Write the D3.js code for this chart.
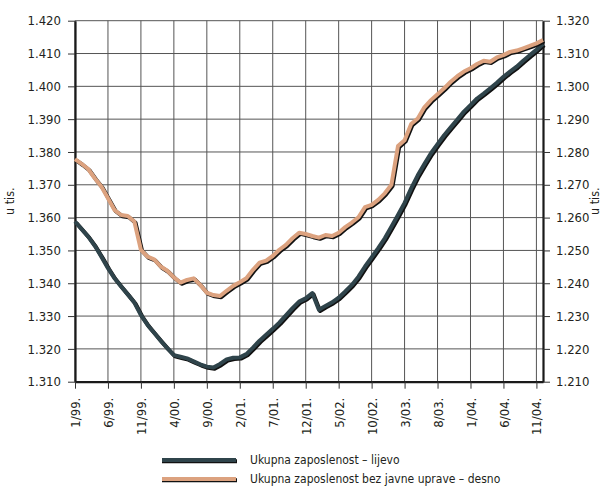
<!DOCTYPE html>
<html>
<head>
<meta charset="utf-8">
<script src="https://cdn.jsdelivr.net/npm/d3@7"></script>
<style>
  body { margin: 0; background: #fff; }
  svg { display: block; }
  text { font-family: "DejaVu Sans Condensed", "DejaVu Sans", sans-serif; fill: #231f20; }
</style>
</head>
<body>
<div id="chart"></div>
<script>
// month categories 1/99. .. 12/04.
const months = d3.range(72).map(i => `${i % 12 + 1}/${String((99 + Math.floor(i / 12)) % 100).padStart(2, "0")}.`);
const tickLabels = ["1/99.", "6/99.", "11/99.", "4/00.", "9/00.", "2/01.", "7/01.", "12/01.",
                    "5/02.", "10/02.", "3/03.", "8/03.", "1/04.", "6/04.", "11/04."];
const leftTicks = [1310, 1320, 1330, 1340, 1350, 1360, 1370, 1380, 1390, 1400, 1410, 1420];
const rightTicks = [1210, 1220, 1230, 1240, 1250, 1260, 1270, 1280, 1290, 1300, 1310, 1320];

// Ukupna zaposlenost (lijevo), u tis.
const ukupna = [
  1358.8, 1356.5, 1354.2, 1351.4, 1348.1, 1344.6, 1341.5, 1339.0, 1336.6, 1334.1, 1330.3, 1327.3,
  1324.9, 1322.5, 1320.2, 1318.1, 1317.6, 1317.1, 1316.2, 1315.3, 1314.6, 1314.3, 1315.4, 1316.8,
  1317.3, 1317.4, 1318.4, 1320.4, 1322.5, 1324.3, 1326.1, 1328.0, 1330.2, 1332.4, 1334.4, 1335.4,
  1337.0, 1331.9, 1333.1, 1334.2, 1335.6, 1337.5, 1339.5, 1342.0, 1345.1, 1347.9, 1350.7, 1353.7,
  1357.2, 1360.8, 1364.5, 1368.9, 1372.9, 1376.3, 1379.6, 1382.4, 1385.1, 1387.5, 1389.9, 1392.3,
  1394.3, 1396.3, 1397.8, 1399.4, 1401.1, 1402.9, 1404.5, 1406.0, 1407.8, 1409.5, 1411.1, 1412.9
];

// Ukupna zaposlenost bez javne uprave (desno), u tis.
const bezUprave = [
  1277.8, 1276.4, 1274.8, 1272.0, 1269.5, 1265.9, 1262.3, 1260.8, 1260.5, 1258.8, 1250.2, 1248.1,
  1247.3, 1245.1, 1243.8, 1241.8, 1240.2, 1241.0, 1241.5, 1239.5, 1237.1, 1236.4, 1236.1, 1237.7,
  1239.2, 1240.3, 1241.5, 1244.1, 1246.3, 1246.9, 1248.3, 1250.2, 1251.7, 1253.7, 1255.4, 1255.0,
  1254.4, 1253.9, 1254.7, 1254.4, 1255.4, 1257.1, 1258.5, 1260.1, 1263.2, 1263.9, 1265.4, 1267.4,
  1270.0, 1281.8, 1283.6, 1288.5, 1290.2, 1293.6, 1295.8, 1297.6, 1299.4, 1301.4, 1303.1, 1304.5,
  1305.5, 1306.8, 1307.8, 1307.5, 1308.8, 1309.5, 1310.5, 1310.9, 1311.6, 1312.3, 1313.1, 1314.1
];

const width = 609, height = 488;
const plotLeft = 75, plotRight = 543, plotTop = 20.7, plotBottom = 381.7;
const darkColor = "#2f444b", orangeColor = "#dca27f";

const hr = d3.formatLocale({decimal: ",", thousands: ".", grouping: [3], currency: ["", ""]});
const fmt = hr.format(",.0f");

const x = d3.scalePoint().domain(months).range([plotLeft, plotRight]);
const yL = d3.scaleLinear().domain([1310, 1420]).range([plotBottom, plotTop]);
const yR = d3.scaleLinear().domain([1210, 1320]).range([plotBottom, plotTop]);

const svg = d3.select("#chart").append("svg")
    .attr("width", width)
    .attr("height", height);

// grid
const grid = svg.append("g").attr("stroke", "#555").attr("stroke-width", 1);
grid.selectAll(".hg").data(leftTicks).enter().append("line")
    .attr("x1", plotLeft).attr("x2", plotRight)
    .attr("y1", d => yL(d)).attr("y2", d => yL(d));
grid.selectAll(".vg").data(tickLabels).enter().append("line")
    .attr("x1", d => x(d)).attr("x2", d => x(d))
    .attr("y1", plotTop).attr("y2", plotBottom);

// axes
const axL = svg.append("g")
    .attr("transform", `translate(${plotLeft},0)`)
    .call(d3.axisLeft(yL).tickValues(leftTicks).tickFormat(fmt).tickSize(7).tickSizeOuter(0).tickPadding(7));
const axR = svg.append("g")
    .attr("transform", `translate(${plotRight},0)`)
    .call(d3.axisRight(yR).tickValues(rightTicks).tickFormat(fmt).tickSize(7).tickSizeOuter(0).tickPadding(6));
const axB = svg.append("g")
    .attr("transform", `translate(0,${plotBottom})`)
    .call(d3.axisBottom(x).tickValues(tickLabels).tickSize(7).tickSizeOuter(0));

[axL, axR, axB].forEach(g => {
    g.select(".domain").attr("stroke", "#1a1a1a").attr("stroke-width", 2.2);
    g.selectAll(".tick line").attr("stroke", "#333");
    g.selectAll("text").style("font-size", "13px").attr("fill", "#231f20");
});

axB.selectAll("text")
    .attr("text-anchor", "end")
    .attr("transform", "rotate(-90)")
    .attr("x", -16)
    .attr("y", 0)
    .attr("dy", "0.35em");

// y titles
svg.append("text")
    .attr("transform", `translate(14,${(plotTop + plotBottom) / 2}) rotate(-90)`)
    .attr("text-anchor", "middle")
    .style("font-size", "12.5px")
    .text("u tis.");
svg.append("text")
    .attr("transform", `translate(599,${(plotTop + plotBottom) / 2}) rotate(-90)`)
    .attr("text-anchor", "middle")
    .style("font-size", "12.5px")
    .text("u tis.");

// lines with shadow
const series = [
    {name: "Ukupna zaposlenost – lijevo", values: ukupna, y: yL, color: darkColor},
    {name: "Ukupna zaposlenost bez javne uprave – desno", values: bezUprave, y: yR, color: orangeColor}
];

series.forEach(s => {
    const line = d3.line()
        .x((d, i) => x(months[i]))
        .y(d => s.y(d));
    svg.append("path")
        .attr("d", line(s.values))
        .attr("transform", "translate(1.2,1.2)")
        .attr("fill", "none")
        .attr("stroke", "#111")
        .attr("stroke-width", 4)
        .attr("stroke-linejoin", "round");
    svg.append("path")
        .attr("d", line(s.values))
        .attr("fill", "none")
        .attr("stroke", s.color)
        .attr("stroke-width", 4)
        .attr("stroke-linejoin", "round");
});

// legend
const legend = svg.selectAll(".legend")
    .data(series)
    .enter().append("g")
    .attr("transform", (d, i) => `translate(162,${460 + i * 19})`);
legend.append("line")
    .attr("x1", 0).attr("x2", 75).attr("y1", 1.2).attr("y2", 1.2)
    .attr("stroke", "#111").attr("stroke-width", 4);
legend.append("line")
    .attr("x1", 0).attr("x2", 74).attr("y1", 0).attr("y2", 0)
    .attr("stroke", d => d.color).attr("stroke-width", 4);
legend.append("text")
    .attr("x", 88)
    .attr("y", 0)
    .attr("dy", "0.35em")
    .style("font-size", "12px")
    .text(d => d.name);
</script>
</body>
</html>
